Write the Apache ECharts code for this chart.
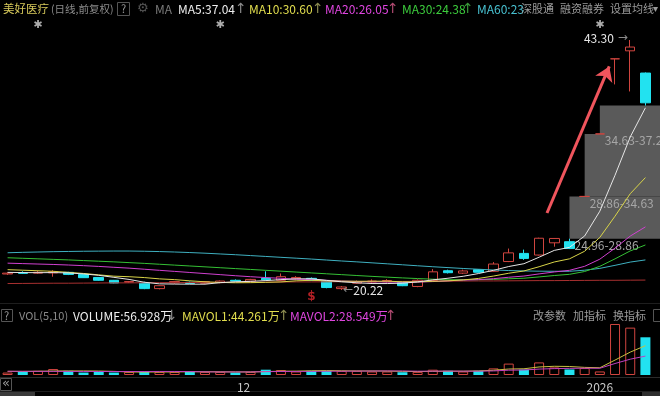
<!DOCTYPE html>
<html><head><meta charset="utf-8">
<script src="https://cdn.jsdelivr.net/npm/echarts@6/dist/echarts.min.js"></script>
<style>html,body{margin:0;padding:0;background:#000;}#c{width:660px;height:396px;}</style>
</head><body><div id="c"></div>
<script>
// ---- data ----
const dates = ['2025-11-07','2025-11-10','2025-11-11','2025-11-12','2025-11-13','2025-11-14','2025-11-17','2025-11-18','2025-11-19','2025-11-20',
'2025-11-21','2025-11-24','2025-11-25','2025-11-26','2025-11-27','2025-11-28','2025-12-01','2025-12-02','2025-12-03','2025-12-04',
'2025-12-05','2025-12-08','2025-12-09','2025-12-10','2025-12-11','2025-12-12','2025-12-15','2025-12-16','2025-12-17','2025-12-18',
'2025-12-19','2025-12-22','2025-12-23','2025-12-24','2025-12-25','2025-12-26','2025-12-29','2025-12-30','2025-12-31','2026-01-05',
'2026-01-06','2026-01-07','2026-01-08'];
const opens  = [21.70,21.82,21.78,21.80,21.85,21.66,21.38,21.12,20.95,20.86,20.35,20.88,20.93,20.85,20.90,21.12,21.04,21.30,21.12,21.25,21.30,21.05,20.35,20.85,20.96,20.98,20.90,20.55,21.10,22.00,21.78,22.10,21.95,22.85,23.60,23.45,24.58,24.68,28.86,34.63,41.56,42.30,40.25];
const closes = [21.78,21.76,21.86,21.92,21.66,21.36,21.12,20.87,21.00,20.35,20.62,21.00,20.83,21.00,21.05,21.04,21.20,21.16,21.45,21.38,21.12,20.45,20.50,20.98,21.05,21.10,20.62,21.12,21.90,21.82,21.98,21.86,22.62,23.65,23.14,25.00,24.98,24.05,28.86,34.63,41.56,42.65,37.50];
const lows   = [21.62,21.70,21.72,21.45,21.60,21.33,21.08,20.84,20.88,20.30,20.28,20.80,20.78,20.80,20.85,20.98,20.98,21.10,21.08,21.20,21.05,20.38,20.22,20.80,20.90,20.92,20.58,20.48,21.05,21.75,21.70,21.80,21.90,22.80,23.00,23.40,24.22,24.00,28.86,34.63,39.20,38.55,37.25];
const highs  = [21.85,21.95,22.00,22.05,21.90,21.72,21.42,21.15,21.05,20.99,20.66,21.05,21.00,21.05,21.10,21.20,21.25,21.95,21.75,21.50,21.38,21.08,20.58,21.10,21.20,21.22,20.95,21.20,22.15,22.10,22.10,22.15,22.80,24.05,23.95,25.05,25.02,24.96,28.86,34.63,41.56,43.30,40.30];
const volumes = [3.7,5.3,6.3,9.0,6.3,3.7,4.7,3.7,4.7,5.3,4.7,4.7,5.3,4.7,4.7,3.7,4.7,8.0,7.5,5.3,6.3,6.3,6.3,6.3,5.3,5.3,4.2,4.7,8.0,6.3,5.3,6.3,10.0,17.2,8.2,19.0,11.4,8.4,10.5,5.37,77.0,71.5,56.928];
const ma5  = [21.85,21.83,21.82,21.83,21.80,21.71,21.58,21.39,21.20,20.94,20.79,20.77,20.76,20.76,20.90,20.98,21.02,21.09,21.18,21.25,21.26,21.11,20.98,20.89,20.82,20.82,20.85,20.97,21.16,21.31,21.49,21.74,22.04,22.39,22.65,23.25,23.88,24.16,25.21,27.50,30.82,34.35,37.04];
const ma10 = [22.10,22.05,22.00,21.95,21.85,21.75,21.62,21.50,21.45,21.37,21.25,21.18,21.07,20.98,20.92,20.89,20.90,20.93,20.97,21.07,21.12,21.07,21.04,21.03,21.03,21.04,20.98,20.98,21.02,21.07,21.15,21.29,21.51,21.77,21.98,22.37,22.81,23.10,23.80,25.08,27.04,29.11,30.60];
const ma20 = [22.70,22.66,22.62,22.58,22.53,22.47,22.40,22.32,22.24,22.14,22.04,21.94,21.84,21.74,21.64,21.54,21.45,21.37,21.30,21.22,21.19,21.12,21.05,21.01,20.98,20.96,20.94,20.95,21.00,21.07,21.14,21.18,21.27,21.40,21.51,21.71,21.89,22.04,22.41,23.07,24.09,25.20,26.05];
const ma30 = [23.20,23.15,23.10,23.05,23.00,22.94,22.88,22.82,22.75,22.68,22.60,22.52,22.44,22.36,22.28,22.20,22.12,22.04,21.96,21.88,21.80,21.72,21.64,21.56,21.48,21.41,21.34,21.28,21.22,21.17,21.18,21.18,21.20,21.26,21.31,21.43,21.56,21.67,21.93,22.41,23.10,23.83,24.38];
const ma60 = [23.66,23.70,23.73,23.76,23.78,23.80,23.81,23.82,23.82,23.80,23.77,23.73,23.68,23.62,23.55,23.48,23.40,23.32,23.24,23.16,23.08,22.99,22.90,22.82,22.73,22.64,22.55,22.46,22.37,22.29,22.21,22.14,22.07,22.02,21.98,21.96,21.95,21.95,22.05,22.22,22.50,22.80,23.00];
const maLong = [20.82,20.83,20.84,20.85,20.85,20.86,20.87,20.88,20.88,20.89,20.90,20.91,20.91,20.92,20.93,20.94,20.94,20.95,20.96,20.97,20.97,20.98,20.99,21.00,21.00,21.01,21.02,21.03,21.03,21.04,21.05,21.06,21.06,21.07,21.08,21.09,21.09,21.10,21.11,21.12,21.12,21.13,21.14];
const mavol1 = [5.5,5.4,5.6,6.0,6.12,6.12,6.0,5.48,4.62,4.42,4.62,4.62,4.94,4.94,4.82,4.62,4.62,5.16,5.72,5.84,6.36,6.68,6.34,6.10,6.10,5.90,5.48,5.16,5.50,5.70,5.70,6.12,7.18,9.02,9.40,12.14,13.16,12.84,11.50,10.93,22.53,34.55,44.261];
const mavol2 = [5.6,5.6,5.5,5.5,5.4,5.4,5.3,5.3,5.3,5.27,5.37,5.31,5.21,4.78,4.62,4.62,4.62,5.05,5.33,5.33,5.49,5.65,5.75,5.91,5.97,6.13,6.08,5.75,5.80,5.90,5.80,5.80,6.17,7.26,7.55,8.92,9.64,10.01,10.26,10.17,17.34,23.86,28.549];
const gapStarts = [37, 38, 39];
const gapLows   = [24.96, 28.86, 34.63];
const gapHighs  = [28.86, 34.63, 37.25];
const eventDays = ['2025-11-11','2025-11-27','2026-01-05'];
const dividendDays = ['2025-12-05'];
const tickDates = ['2025-12-01','2026-01-05'];
const tickTexts = ['12','2026'];

// ---- chart ----
const FONT = '"Noto Sans CJK SC", "Microsoft YaHei", sans-serif';
const UP = '#d0453f', DOWN = '#22e2f0';
const N = dates.length;
const isUp = i => closes[i] > opens[i] || (closes[i] === opens[i] && (i === 0 || closes[i] >= closes[i-1]));
const kData = dates.map((d,i)=>[opens[i], closes[i], lows[i], highs[i]]);
const volData = volumes.map((v,i)=>({value:v, itemStyle: isUp(i) ? {color:'rgba(0,0,0,0)', borderColor:UP, borderWidth:1} : {color:DOWN, borderWidth:0}}));
let iMax = 0, iMin = 0;
highs.forEach((h,i)=>{ if (h > highs[iMax]) iMax = i; });
lows.forEach((l,i)=>{ if (l < lows[iMin]) iMin = i; });
const last = a => a[a.length-1];

const eventLevel = 44.7, dividendLevel = 19.62;
const arrowFrom = [35.52, 27.33], arrowTo = [39.62, 40.86];

const maLine = (data, color) => ({type:'line', data, xAxisIndex:0, yAxisIndex:0, showSymbol:false, symbol:'none',
  lineStyle:{width:1, color}, z:3, silent:true});
const vLine = (data, color) => ({type:'line', data, xAxisIndex:1, yAxisIndex:1, showSymbol:false, symbol:'none',
  lineStyle:{width:1, color}, z:3, silent:true});

function txt(x, y, text, fill, size, family){
  return {type:'text', silent:true, style:{text, x, y, fill, font:(size||12)+'px '+(family||FONT), verticalAlign:'middle', align:'left'}};
}
const ARW = 14;
const header = [
  txt(3,9,'美好医疗','#d6c85a',11.5),
  txt(51,9,'(日线,前复权)','#8c8c8c',10.5),
  txt(121,9,'?','#9a9a9a',11),
  txt(137,9,'⚙','#555',13,'DejaVu Sans'),
  txt(155,9,'MA','#7a7a7a'),
  txt(178,9,'MA5:'+last(ma5).toFixed(2),'#eeeeee'),
  txt(235,9,'↑','#8a8a8a',ARW,'DejaVu Sans'),
  txt(249,9,'MA10:'+last(ma10).toFixed(2),'#e2de4e'),
  txt(312,9,'↑','#8a8a50',ARW,'DejaVu Sans'),
  txt(325,9,'MA20:'+last(ma20).toFixed(2),'#e046e0'),
  txt(387,9,'↑','#b04a70',ARW,'DejaVu Sans'),
  txt(402,9,'MA30:'+last(ma30).toFixed(2),'#3ccc3c'),
  txt(462,9,'↑','#3a9a3a',ARW,'DejaVu Sans'),
  txt(477,9,('MA60:'+last(ma60).toFixed(2)).slice(0,7),'#48c2d2'),
  txt(521,9,'深股通','#9a9a9a',11),
  txt(560,9,'融资融券','#9a9a9a',11),
  txt(610,9,'设置均线','#9a9a9a',11),
  txt(653,9,'▾','#9a9a9a',10,'DejaVu Sans'),
  {type:'rect', silent:true, shape:{x:117.5,y:2.5,width:12,height:13}, style:{fill:'none', stroke:'#555', lineWidth:1}},
  // volume header
  {type:'rect', silent:true, shape:{x:1.5,y:309.5,width:11,height:12}, style:{fill:'none', stroke:'#555', lineWidth:1}},
  txt(4,316,'?','#9a9a9a',11),
  txt(19,316,'VOL(5,10)','#8a8a8a',11),
  txt(73,316,'VOLUME:'+last(volumes).toFixed(3)+'万','#eeeeee'),
  txt(166,316,'↓','#8a8a8a',ARW,'DejaVu Sans'),
  txt(182,316,'MAVOL1:'+last(mavol1).toFixed(3)+'万','#e2de4e'),
  txt(278,316,'↑','#8a8a50',ARW,'DejaVu Sans'),
  txt(290,316,'MAVOL2:'+last(mavol2).toFixed(3)+'万','#e046e0'),
  txt(385,316,'↑','#b04a70',ARW,'DejaVu Sans'),
  txt(533,316,'改参数','#9a9a9a',11),
  txt(573,316,'加指标','#9a9a9a',11),
  txt(613,316,'换指标','#9a9a9a',11),
  {type:'rect', silent:true, shape:{x:653.5,y:309.5,width:10,height:12}, style:{fill:'none', stroke:'#555', lineWidth:1}},
  // separators
  {type:'line', silent:true, shape:{x1:0,y1:303.5,x2:660,y2:303.5}, style:{stroke:'#1e1e1e', lineWidth:1}},
  {type:'line', silent:true, shape:{x1:0,y1:377.5,x2:660,y2:377.5}, style:{stroke:'#2a2a2a', lineWidth:1}},
  {type:'line', silent:true, shape:{x1:0,y1:391.5,x2:660,y2:391.5}, style:{stroke:'#1e1e1e', lineWidth:1}},
  {type:'rect', silent:true, shape:{x:0.5,y:378.5,width:11,height:12}, style:{fill:'none', stroke:'#555', lineWidth:1}},
  txt(2,384,'«','#9a9a9a',13,'DejaVu Sans'),
  {type:'rect', silent:true, shape:{x:0,y:392,width:35,height:4}, style:{fill:'#3a3a3a'}},
  {type:'rect', silent:true, shape:{x:642,y:392,width:18,height:4}, style:{fill:'#2e2e2e'}}
];

const option = {
  backgroundColor:'#000',
  animation:false,
  textStyle:{fontFamily:FONT},
  grid:[
    {left:0, right:7, top:18, height:282},
    {left:0, right:7, top:322, height:53}
  ],
  xAxis:[
    {type:'category', gridIndex:0, data:dates, boundaryGap:true, show:false},
    {type:'category', gridIndex:1, data:dates, boundaryGap:true,
     axisLine:{show:false}, axisTick:{show:false}, splitLine:{show:false},
     axisLabel:{interval:(idx,val)=>tickDates.includes(val),
       formatter:(val)=>{ const t = tickTexts[tickDates.indexOf(val)] || ''; return t.length < 4 ? '{m|'+t+'}' : t; },
       rich:{m:{color:'#c8c8c8', fontSize:12, fontFamily:FONT, padding:[0,14,0,0]}},
       color:'#c8c8c8', fontSize:12, margin:6, fontFamily:FONT}},
    {type:'value', gridIndex:0, min:-0.5, max:N-0.5, show:false}
  ],
  yAxis:[
    {type:'value', gridIndex:0, min:19.3, max:45.33, show:false},
    {type:'value', gridIndex:1, min:0, max:80, show:false}
  ],
  graphic: header,
  series:[
    {type:'custom', xAxisIndex:0, yAxisIndex:0, z:1, silent:true,
     data: gapStarts.map((s,i)=>[s, gapLows[i], gapHighs[i]]),
     renderItem:(params, api)=>{
       const s = api.value(0), lo = api.value(1), hi = api.value(2);
       const pTop = api.coord([s, hi]), pBot = api.coord([s, lo]);
       const x = pTop[0];
       return {type:'group', children:[
         {type:'rect', shape:{x, y:pTop[1], width:api.getWidth()-x, height:pBot[1]-pTop[1]}, style:{fill:'rgba(110,110,110,0.82)'}},
         {type:'text', style:{text: lo.toFixed(2)+'-'+hi.toFixed(2), x:x+5, y:pBot[1]+1, fill:'#a6a6a6', font:'12px '+FONT, verticalAlign:'top', align:'left'}}
       ]};
     }},
    {type:'candlestick', xAxisIndex:0, yAxisIndex:0, data:kData, barWidth:10, z:2,
     itemStyle:{color:'rgba(0,0,0,0)', color0:DOWN, borderColor:UP, borderColor0:DOWN, borderWidth:1},
     markPoint:{symbol:'circle', symbolSize:1, itemStyle:{color:'rgba(0,0,0,0)'}, silent:true, animation:false,
       data:[
         {coord:[dates[iMax], highs[iMax]], label:{show:true, position:'left', distance:2, offset:[0,-2],
           formatter:'{v|'+highs[iMax].toFixed(2)+'}{a| →}',
           rich:{v:{color:'#e6e6e6', fontSize:12, fontFamily:FONT}, a:{color:'#8a8a8a', fontSize:12, fontFamily:'DejaVu Sans'}}}},
         {coord:[dates[iMin], lows[iMin]], label:{show:true, position:'right', distance:1,
           formatter:'{a|←}{v|'+lows[iMin].toFixed(2)+'}',
           rich:{v:{color:'#e6e6e6', fontSize:12, fontFamily:FONT}, a:{color:'#8a8a8a', fontSize:12, fontFamily:'DejaVu Sans'}}}}
       ]}},
    maLine(maLong, '#a83030'),
    maLine(ma60, '#3fb0c0'),
    maLine(ma30, '#35c035'),
    maLine(ma20, '#d040d0'),
    maLine(ma10, '#d8d448'),
    maLine(ma5, '#e6e6e6'),
    {type:'scatter', xAxisIndex:0, yAxisIndex:0, silent:true, symbolSize:1, itemStyle:{color:'rgba(0,0,0,0)'}, z:4,
     data: eventDays.map(d=>[d, eventLevel]),
     label:{show:true, position:'inside', formatter:'✱', color:'#d8d8d8', fontSize:11, fontFamily:'DejaVu Sans'}},
    {type:'scatter', xAxisIndex:0, yAxisIndex:0, silent:true, symbolSize:1, itemStyle:{color:'rgba(0,0,0,0)'}, z:4,
     data: dividendDays.map(d=>[d, dividendLevel]),
     label:{show:true, position:'inside', formatter:'$', color:'#e0282e', fontSize:12, fontWeight:'bold', fontFamily:'DejaVu Sans'}},
    {type:'line', xAxisIndex:2, yAxisIndex:0, data:[arrowFrom, arrowTo], showSymbol:false, symbol:'none',
     lineStyle:{opacity:0}, silent:true, z:5,
     markLine:{silent:true, animation:false, symbol:['none','arrow'], symbolSize:14,
       lineStyle:{color:'#f0555d', width:3, type:'solid'}, label:{show:false},
       data:[[{coord:arrowFrom},{coord:arrowTo}]]}},
    {type:'bar', xAxisIndex:1, yAxisIndex:1, data:volData, barWidth:10, z:2},
    vLine(mavol1, '#c8c040'),
    vLine(mavol2, '#c040c0')
  ]
};
const chart = echarts.init(document.getElementById('c'));
chart.setOption(option);
</script>
</body></html>
